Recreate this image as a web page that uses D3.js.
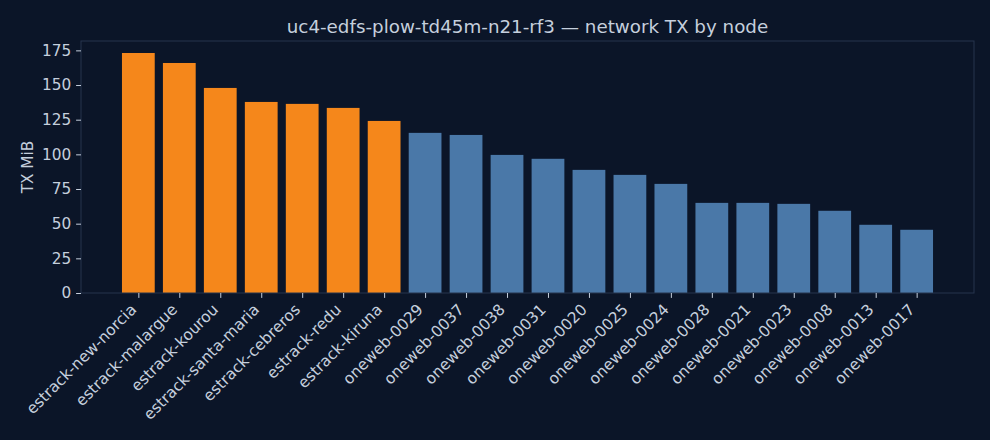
<!DOCTYPE html>
<html>
<head>
<meta charset="utf-8">
<script src="https://cdn.jsdelivr.net/npm/d3@7"></script>
<style>
  html, body { margin: 0; padding: 0; background: #0b1528; }
  svg { display: block; font-family: "DejaVu Sans", sans-serif; }
</style>
</head>
<body>
<div id="chart"></div>
<script>
const nodes = [
  'estrack-new-norcia', 'estrack-malargue', 'estrack-kourou', 'estrack-santa-maria',
  'estrack-cebreros', 'estrack-redu', 'estrack-kiruna',
  'oneweb-0029', 'oneweb-0037', 'oneweb-0038', 'oneweb-0031', 'oneweb-0020',
  'oneweb-0025', 'oneweb-0024', 'oneweb-0028', 'oneweb-0021', 'oneweb-0023',
  'oneweb-0008', 'oneweb-0013', 'oneweb-0017'
];
const txMiB = [173.1, 165.9, 147.9, 137.8, 136.4, 133.5, 124.1,
  115.5, 114.0, 99.6, 96.8, 88.8, 85.2, 78.7, 65.0, 65.0, 64.3, 59.3, 49.2, 45.6];
const yTicks = [0, 25, 50, 75, 100, 125, 150, 175];
const title = 'uc4-edfs-plow-td45m-n21-rf3 \u2014 network TX by node';

const W = 990, H = 440;
const margin = {top: 41, right: 16, bottom: 147, left: 81},
      width = W - margin.left - margin.right,
      height = H - margin.top - margin.bottom;

const textColor = '#c5cfdd';
const spineColor = '#27354d';
const fontSize = '15.3px';

const x = d3.scaleLinear()
    .domain([-1.4, nodes.length + 0.4])
    .range([0, width]);

const y = d3.scaleLinear()
    .domain([0, d3.max(txMiB) * 1.05])
    .range([height, 0]);

const svg = d3.select('#chart').append('svg')
    .attr('width', W)
    .attr('height', H);

svg.append('rect')
    .attr('width', W)
    .attr('height', H)
    .attr('fill', '#0b1528');

const g = svg.append('g')
    .attr('transform', `translate(${margin.left},${margin.top})`);

g.selectAll('.bar')
    .data(nodes)
  .enter().append('rect')
    .attr('class', 'bar')
    .attr('x', (d, i) => x(i - 0.4))
    .attr('width', x(0.8) - x(0))
    .attr('y', (d, i) => y(txMiB[i]))
    .attr('height', (d, i) => y(0) - y(txMiB[i]))
    .attr('fill', d => d.startsWith('estrack') ? '#f5871b' : '#4a78a8');

// frame
g.append('rect')
    .attr('width', width)
    .attr('height', height)
    .attr('fill', 'none')
    .attr('stroke', spineColor)
    .attr('stroke-width', 1);

const yAxis = g.append('g')
    .call(d3.axisLeft(y).tickValues(yTicks).tickSize(4.9).tickPadding(4.9));
yAxis.select('.domain').remove();
yAxis.selectAll('line').attr('stroke', textColor);
yAxis.selectAll('text')
    .attr('fill', textColor)
    .style('font-size', fontSize)
    .style('font-family', '"DejaVu Sans", sans-serif');

const xAxis = g.append('g')
    .attr('transform', `translate(0,${height})`)
    .call(d3.axisBottom(x)
      .tickValues(d3.range(nodes.length))
      .tickFormat(i => nodes[i])
      .tickSize(4.9));
xAxis.select('.domain').remove();
xAxis.selectAll('line').attr('stroke', textColor);
xAxis.selectAll('text')
    .attr('fill', textColor)
    .style('font-size', '15.5px')
    .style('font-family', '"DejaVu Sans", sans-serif')
    .attr('y', 0)
    .attr('dy', 0)
    .attr('transform', 'translate(-1.5,17.5) rotate(-45)')
    .style('text-anchor', 'end');

svg.append('text')
    .attr('transform', `translate(32.5,${margin.top + height / 2}) rotate(-90)`)
    .attr('text-anchor', 'middle')
    .attr('fill', textColor)
    .style('font-size', fontSize)
    .text('TX MiB');

svg.append('text')
    .attr('x', margin.left + width / 2)
    .attr('y', 32.5)
    .attr('text-anchor', 'middle')
    .attr('fill', textColor)
    .style('font-size', '18.3px')
    .text(title);
</script>
</body>
</html>
